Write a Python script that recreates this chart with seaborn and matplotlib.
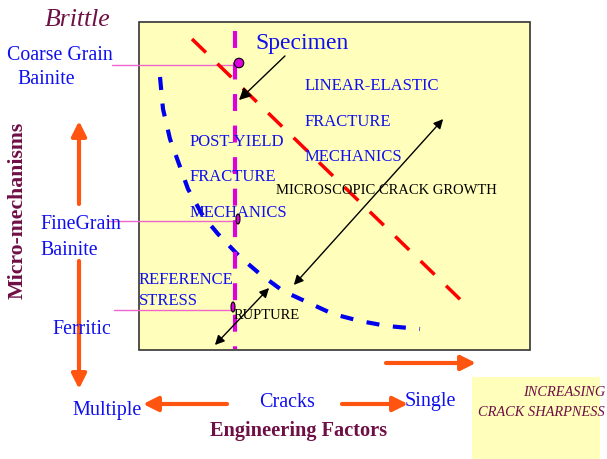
import matplotlib
matplotlib.use("Agg")
import matplotlib.pyplot as plt
import seaborn as sns
import numpy as np
from matplotlib.patches import Rectangle, Ellipse

# ---------------- data (diagram coordinates, pixel space) ----------------
blue_curve_x = [160, 163, 170, 179, 188, 203, 218, 240, 260, 283, 307, 333, 360, 387, 420]
blue_curve_y = [78, 110, 140, 165, 190, 217, 235, 258, 275, 292, 303, 315, 322, 327, 330]
red_line_x = [192, 470]
red_line_y = [40, 310]
specimen_x = [235, 235]
specimen_y = [32, 350]
micro_labels = ["Coarse Grain", "Bainite", "FineGrain", "Bainite", "Ferritic"]
crack_labels = ["Multiple", "Cracks", "Single"]
regime_labels = ["LINEAR-ELASTIC", "FRACTURE", "MECHANICS"]
post_labels = ["POST-YIELD", "FRACTURE", "MECHANICS"]

sns.set_theme(style="white")
plt.rcParams["font.family"] = ["Liberation Serif", "DejaVu Serif"]
plt.rcParams["lines.scale_dashes"] = False

fig = plt.figure(figsize=(6.07, 4.60), dpi=100)
ax = fig.add_axes([0, 0, 1, 1])
ax.set_xlim(0, 607)
ax.set_ylim(460, 0)
ax.axis("off")

YELLOW = "#FFFFBB"
BLUE = "#1010EE"
MAROON = "#6E0F45"
ORANGE = "#FF5511"
MAGENTA = "#DD00DD"
PINK = "#EE66CC"

# boxes
ax.add_patch(Rectangle((139, 23), 391, 328, facecolor=YELLOW, edgecolor="#333333", lw=1.2, zorder=0))
ax.add_patch(Rectangle((472, 378), 128, 82, facecolor=YELLOW, edgecolor="none", zorder=0))

# curves
sns.lineplot(x=red_line_x, y=red_line_y, sort=False, estimator=None, ax=ax, color="#FF0000", linewidth=2.5)
ax.lines[-1].set_dashes((14, 11.5))
sns.lineplot(x=blue_curve_x, y=blue_curve_y, sort=False, estimator=None, ax=ax, color="#0000EE", linewidth=3.0)
ax.lines[-1].set_dashes((9.4, 9.8))
sns.lineplot(x=specimen_x, y=specimen_y, sort=False, estimator=None, ax=ax, color=MAGENTA, linewidth=3.0)
ax.lines[-1].set_dashes((12.2, 10.5))

# pink leader lines
for (x0, x1, y) in [(112, 237, 66), (108, 237, 222), (114, 233, 311)]:
    ax.plot([x0, x1], [y, y], color=PINK, lw=1.0, zorder=1)

# markers on specimen line
ax.add_patch(Ellipse((239, 64), 9.5, 9.5, facecolor=MAGENTA, edgecolor="black", lw=0.8, zorder=5))
ax.add_patch(Ellipse((238, 220), 4, 10, facecolor=MAGENTA, edgecolor="black", lw=0.8, zorder=5))
ax.add_patch(Ellipse((233, 308), 4, 10, facecolor=MAGENTA, edgecolor="black", lw=0.8, zorder=5))

# black arrows
ax.annotate("", xy=(237, 103), xytext=(287, 55),
            arrowprops=dict(arrowstyle="-|>", color="black", lw=1.0, mutation_scale=18))
ax.annotate("", xy=(445, 118), xytext=(292, 288),
            arrowprops=dict(arrowstyle="<|-|>", color="black", lw=1.0, mutation_scale=14))
ax.annotate("", xy=(271, 287), xytext=(213, 348),
            arrowprops=dict(arrowstyle="<|-|>", color="black", lw=1.0, mutation_scale=14))

# orange arrows
oprops = dict(arrowstyle="-|>", color=ORANGE, lw=3.0, mutation_scale=22, shrinkA=0, shrinkB=0)
ax.annotate("", xy=(79, 122), xytext=(79, 205), arrowprops=oprops)
ax.annotate("", xy=(79, 390), xytext=(79, 262), arrowprops=oprops)
ax.annotate("", xy=(143, 405), xytext=(227, 405), arrowprops=oprops)
ax.annotate("", xy=(408, 405), xytext=(342, 405), arrowprops=oprops)
ax.annotate("", xy=(476, 364), xytext=(386, 364), arrowprops=oprops)

# texts
ax.text(45, 20, "Brittle", color=MAROON, fontsize=18.5, style="italic", va="center", ha="left")
ax.text(7, 55, micro_labels[0], color=BLUE, fontsize=14.3, va="center", ha="left")
ax.text(17, 80, micro_labels[1], color=BLUE, fontsize=14.3, va="center", ha="left")
ax.text(40, 225, micro_labels[2], color=BLUE, fontsize=14.3, va="center", ha="left")
ax.text(40, 251, micro_labels[3], color=BLUE, fontsize=14.3, va="center", ha="left")
ax.text(52, 330, micro_labels[4], color=BLUE, fontsize=14.3, va="center", ha="left")
ax.text(18, 210, "Micro-mechanisms", color=MAROON, fontsize=15.7, fontweight="bold",
        rotation=90, va="center", ha="center")

ax.text(255, 43, "Specimen", color=BLUE, fontsize=17, va="center", ha="left")
for lab, y in zip(regime_labels, [86, 122, 157]):
    ax.text(305, y, lab, color=BLUE, fontsize=12, va="center", ha="left")
for lab, y in zip(post_labels, [142, 177, 213]):
    ax.text(190, y, lab, color=BLUE, fontsize=12, va="center", ha="left")
ax.text(276, 191, "MICROSCOPIC CRACK GROWTH", color="black", fontsize=10.5, va="center", ha="left")
ax.text(139, 280, "REFERENCE", color=BLUE, fontsize=12, va="center", ha="left")
ax.text(139, 301, "STRESS", color=BLUE, fontsize=12, va="center", ha="left")
ax.text(234, 316, "RUPTURE", color="black", fontsize=10.5, va="center", ha="left")

ax.text(107, 411, crack_labels[0], color=BLUE, fontsize=14.5, va="center", ha="center")
ax.text(287, 403, crack_labels[1], color=BLUE, fontsize=14.5, va="center", ha="center")
ax.text(430, 402, crack_labels[2], color=BLUE, fontsize=14.5, va="center", ha="center")
ax.text(299, 431, "Engineering Factors", color=MAROON, fontsize=14.7, fontweight="bold",
        va="center", ha="center")
ax.text(605, 393, "INCREASING", color=MAROON, fontsize=10.4, style="italic", va="center", ha="right")
ax.text(605, 413, "CRACK SHARPNESS", color=MAROON, fontsize=10.4, style="italic", va="center", ha="right")

fig.savefig("out.png", dpi=100)
